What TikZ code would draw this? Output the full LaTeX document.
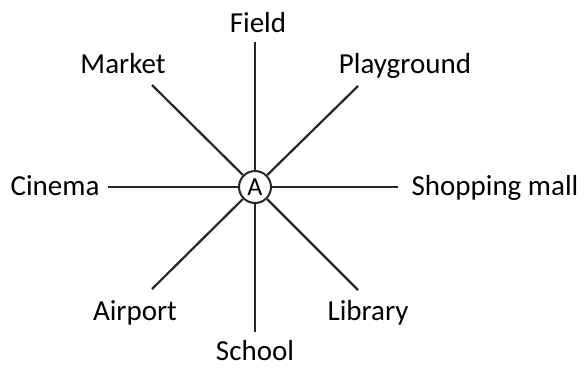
\documentclass[tikz,border=0pt]{standalone}
\usepackage{fontspec}
\setmainfont{Carlito}
\begin{document}
\begin{tikzpicture}[x=1pt,y=-1pt,
  lbl/.style={anchor=base,inner sep=0pt,font=\fontsize{29}{34}\selectfont},
  ray/.style={line width=2.2pt,black!85},
  hub/.style={circle,draw=black!85,line width=2pt,minimum size=32pt,inner sep=0pt,font=\fontsize{26}{30}\selectfont}]
\useasboundingbox (0,0) rectangle (585,367);
\node[hub] (A) at (255,187) {A};
\coordinate (eN) at (255,42);
\coordinate (eS) at (255,332);
\coordinate (eW) at (108,187);
\coordinate (eE) at (398,187);
\coordinate (eNW) at (152,85);
\coordinate (eNE) at (358,86);
\coordinate (eSW) at (152,289);
\coordinate (eSE) at (358,290);
\foreach \e in {eN,eS,eW,eE,eNW,eNE,eSW,eSE} \draw[ray] (A) -- (\e);
\node[lbl] (field) at (258,32) {Field};
\node[lbl] (market) at (123,73) {Market};
\node[lbl] (play) at (405,73) {Playground};
\node[lbl] (cinema) at (55,195) {Cinema};
\node[lbl] (shop) at (495,195) {Shopping mall};
\node[lbl] (air) at (135,320) {Airport};
\node[lbl] (lib) at (368,320) {Library};
\node[lbl] (school) at (255,360) {School};
\end{tikzpicture}
\end{document}
